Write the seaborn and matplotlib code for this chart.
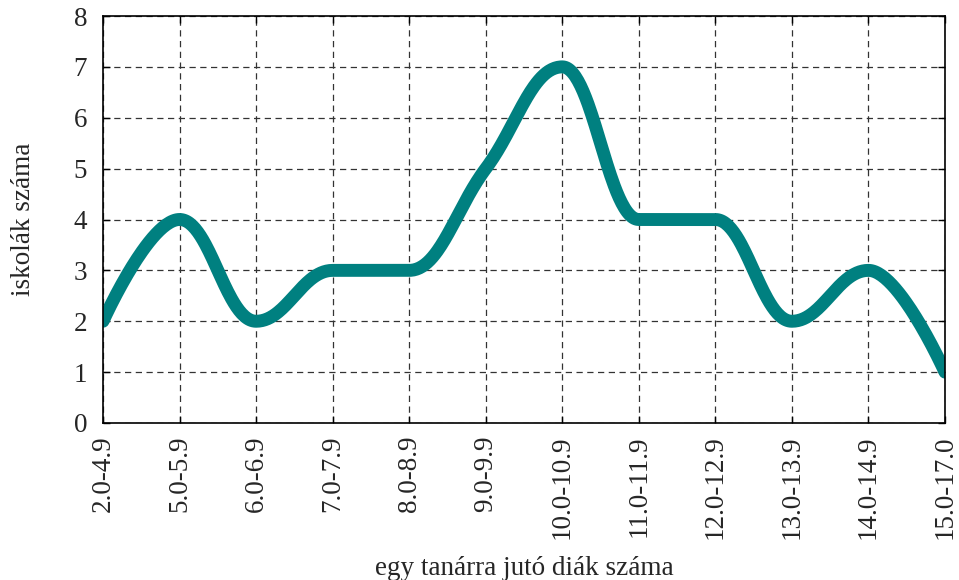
import numpy as np
import pandas as pd
import seaborn as sns
import matplotlib
matplotlib.use("Agg")
import matplotlib.pyplot as plt

# data
categories = ["2.0-4.9", "5.0-5.9", "6.0-6.9", "7.0-7.9", "8.0-8.9", "9.0-9.9",
              "10.0-10.9", "11.0-11.9", "12.0-12.9", "13.0-13.9", "14.0-14.9", "15.0-17.0"]
schools = [2, 4, 2, 3, 3, 5, 7, 4, 4, 2, 3, 1]


def spline_path(xs, ys, smoothing=1.5, steps=60):
    # bezier spline with flattened control points at local extremes
    n = len(xs)
    lx, ly = list(xs), list(ys)
    rx, ry = list(xs), list(ys)
    d = smoothing + 1
    for i in range(1, n - 1):
        l_x = (smoothing * xs[i] + xs[i - 1]) / d
        l_y = (smoothing * ys[i] + ys[i - 1]) / d
        r_x = (smoothing * xs[i] + xs[i + 1]) / d
        r_y = (smoothing * ys[i] + ys[i + 1]) / d
        corr = (r_y - l_y) * (r_x - xs[i]) / (r_x - l_x) + ys[i] - r_y
        l_y += corr
        r_y += corr
        if l_y > ys[i - 1] and l_y > ys[i]:
            l_y = max(ys[i - 1], ys[i])
            r_y = 2 * ys[i] - l_y
        elif l_y < ys[i - 1] and l_y < ys[i]:
            l_y = min(ys[i - 1], ys[i])
            r_y = 2 * ys[i] - l_y
        if r_y > ys[i + 1] and r_y > ys[i]:
            r_y = max(ys[i + 1], ys[i])
            l_y = 2 * ys[i] - r_y
        elif r_y < ys[i + 1] and r_y < ys[i]:
            r_y = min(ys[i + 1], ys[i])
            l_y = 2 * ys[i] - r_y
        lx[i], ly[i], rx[i], ry[i] = l_x, l_y, r_x, r_y
    t = np.linspace(0, 1, steps)
    px, py = [], []
    for i in range(n - 1):
        p0 = np.array([xs[i], ys[i]])
        p1 = np.array([rx[i], ry[i]])
        p2 = np.array([lx[i + 1], ly[i + 1]])
        p3 = np.array([xs[i + 1], ys[i + 1]])
        pts = ((1 - t) ** 3)[:, None] * p0 + (3 * (1 - t) ** 2 * t)[:, None] * p1 \
            + (3 * (1 - t) * t ** 2)[:, None] * p2 + (t ** 3)[:, None] * p3
        px.extend(pts[:, 0])
        py.extend(pts[:, 1])
    return px, py


xpos = list(range(len(categories)))
cx, cy = spline_path(xpos, schools)
curve = pd.DataFrame({"x": cx, "y": cy})

sns.set_theme(style="white")
plt.rcParams["font.family"] = ["Liberation Serif", "DejaVu Serif"]

fig, ax = plt.subplots(figsize=(9.59, 5.8), dpi=100)
fig.subplots_adjust(left=103 / 959, right=945 / 959, top=1 - 16 / 580, bottom=1 - 423 / 580)

sns.lineplot(data=curve, x="x", y="y", sort=False, ax=ax, color="#008080",
             linewidth=9.3, solid_capstyle="round", estimator=None)

fs = 19.5
ax.set_xlim(0, len(categories) - 1)
ax.set_ylim(0, 8)
ax.set_xticks(xpos)
ax.set_xticklabels(categories, rotation=90, fontsize=fs)
ax.set_yticks(range(0, 9))
ax.set_yticklabels([str(v) for v in range(0, 9)], fontsize=fs)

ax.grid(True, linestyle=(0, (5, 3.6)), color="#333333", linewidth=0.9)
ax.set_axisbelow(True)
for s in ax.spines.values():
    s.set_color("black")
    s.set_linewidth(1.2)
ax.tick_params(axis="both", direction="in", length=5, width=1, color="black",
               top=True, right=True, bottom=True, left=True)
ax.tick_params(axis="y", pad=11.5)
ax.tick_params(axis="x", pad=9)

ax.set_xlabel("egy tanárra jutó diák száma", fontsize=fs)
ax.set_ylabel("iskolák száma", fontsize=fs)
ax.xaxis.set_label_coords(0.5, -0.326)
ax.yaxis.set_label_coords(-0.0793, 0.5)

fig.savefig("out.png", dpi=100)
